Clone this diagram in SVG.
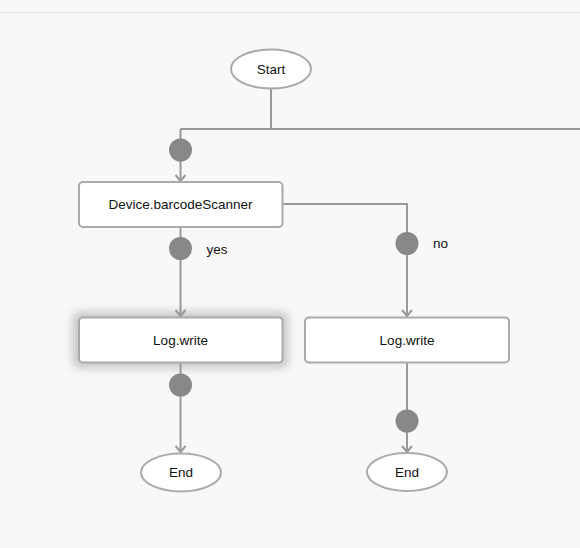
<svg xmlns="http://www.w3.org/2000/svg" width="580" height="548" viewBox="0 0 580 548">
<defs>
<style>
.bg{fill:#f8f8f8}
.conn{fill:none;stroke:#999;stroke-width:2}
.dot{fill:#888}
.box{fill:#fff;stroke:#aaa;stroke-width:2}
.term{fill:#fff;stroke:#aaa;stroke-width:2}
.t{font-family:"Liberation Sans",Arial,sans-serif;font-size:13.5px;fill:#111;text-anchor:middle;dominant-baseline:central}
.lbl{font-family:"Liberation Sans",Arial,sans-serif;font-size:13.5px;fill:#111;dominant-baseline:central}
</style>
<marker id="arr" viewBox="0 0 10 12" refX="9" refY="6" markerWidth="10" markerHeight="12" markerUnits="userSpaceOnUse" orient="auto">
<path d="M3 1 L9 6 L3 11" fill="none" stroke="#999" stroke-width="2"/>
</marker>
<filter id="glow" x="-20%" y="-50%" width="140%" height="200%">
<feGaussianBlur stdDeviation="5"/>
</filter>
</defs>
<rect class="bg" x="0" y="0" width="580" height="548"/>
<line x1="0" y1="12.5" x2="580" y2="12.5" stroke="#e2e2e2" stroke-width="1"/>
<g id="connectors">
<path class="conn" d="M271 88 V129"/>
<path class="conn" d="M180.5 129 H580"/>
<path class="conn" d="M180.5 129 V181" marker-end="url(#arr)"/>
<path class="conn" d="M180.5 227 V316" marker-end="url(#arr)"/>
<path class="conn" d="M282 204 H407 V316" marker-end="url(#arr)"/>
<path class="conn" d="M180.5 362 V452" marker-end="url(#arr)"/>
<path class="conn" d="M407 362 V452" marker-end="url(#arr)"/>
<circle class="dot" cx="180.5" cy="150" r="11.5"/>
<circle class="dot" cx="180.5" cy="248.5" r="11.5"/>
<circle class="dot" cx="407" cy="243.5" r="11.5"/>
<circle class="dot" cx="180.5" cy="385" r="11.5"/>
<circle class="dot" cx="407" cy="421" r="11.5"/>
<text class="lbl" x="206.5" y="249">yes</text>
<text class="lbl" x="433" y="243">no</text>
</g>
<g id="start">
<ellipse class="term" cx="271" cy="69" rx="40" ry="19.5"/>
<text class="t" x="271" y="69">Start</text>
</g>
<g id="scanner">
<rect class="box" x="79" y="182" width="203.5" height="45" rx="4"/>
<text class="t" x="180.5" y="204.5">Device.barcodeScanner</text>
</g>
<g id="logLeft">
<rect x="73" y="312" width="215" height="56" rx="6" fill="#999" opacity="0.55" filter="url(#glow)"/>
<rect class="box" x="79" y="317.5" width="203.5" height="45" rx="4"/>
<text class="t" x="180.5" y="340">Log.write</text>
</g>
<g id="logRight">
<rect class="box" x="305" y="317.5" width="204" height="45" rx="4"/>
<text class="t" x="407" y="340">Log.write</text>
</g>
<g id="endLeft">
<ellipse class="term" cx="181" cy="472.5" rx="40" ry="19"/>
<text class="t" x="181" y="472.5">End</text>
</g>
<g id="endRight">
<ellipse class="term" cx="407" cy="472" rx="40" ry="19"/>
<text class="t" x="407" y="472">End</text>
</g>
</svg>
